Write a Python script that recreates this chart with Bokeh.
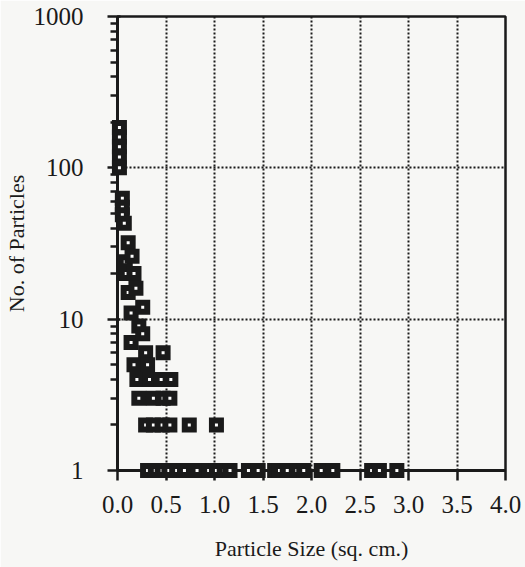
from bokeh.plotting import figure
from bokeh.models import FixedTicker, Range1d
from bokeh.embed import file_html
from bokeh.resources import INLINE

# Particle size (sq. cm.) and number of particles
sizes = [0.02, 0.02, 0.02, 0.02, 0.02,
         0.05, 0.05, 0.05,
         0.07, 0.11, 0.08, 0.15, 0.09, 0.17, 0.11, 0.19, 0.14, 0.26,
         0.22, 0.14, 0.26, 0.29, 0.47, 0.17, 0.31,
         0.20, 0.33, 0.45, 0.55,
         0.22, 0.37, 0.47, 0.54,
         0.29, 0.37, 0.46, 0.54, 0.74, 1.02,
         0.31, 0.39, 0.46, 0.53, 0.61, 0.69, 0.82, 0.94, 1.02, 1.10, 1.16,
         1.35, 1.45, 1.62, 1.67, 1.75, 1.85, 1.92, 2.10, 2.22, 2.62, 2.70, 2.88]
counts = [185, 160, 138, 118, 100,
          63, 55, 49,
          43, 32, 24, 26, 20, 20, 15, 16, 11, 12,
          9, 7, 8, 6, 6, 5, 5,
          4, 4, 4, 4,
          3, 3, 3, 3,
          2, 2, 2, 2, 2, 2,
          1, 1, 1, 1, 1, 1, 1, 1, 1, 1, 1,
          1, 1, 1, 1, 1, 1, 1, 1, 1, 1, 1, 1]

x_ticks = [0.0, 0.5, 1.0, 1.5, 2.0, 2.5, 3.0, 3.5, 4.0]
x_tick_labels = ["0.0", "0.5", "1.0", "1.5", "2.0", "2.5", "3.0", "3.5", "4.0"]
y_ticks = [1, 10, 100, 1000]
y_tick_labels = ["1", "10", "100", "1000"]
y_minor = [m * d for d in (1, 10, 100) for m in range(2, 10)]

FONT = "Liberation Serif"
INK = "#1a1a1a"
BG = "#f7f7f5"

p = figure(width=525, height=567, y_axis_type="log",
           x_range=Range1d(0, 4.0), y_range=Range1d(1, 1000),
           output_backend="svg", toolbar_location=None,
           min_border_left=106, min_border_right=20,
           min_border_top=16, min_border_bottom=97,
           background_fill_color=BG, border_fill_color=BG,
           outline_line_color=INK, outline_line_width=2.5)

p.xaxis.ticker = FixedTicker(ticks=x_ticks)
p.xaxis.major_label_overrides = dict(zip(x_ticks, x_tick_labels))
p.yaxis.ticker = FixedTicker(ticks=y_ticks, minor_ticks=y_minor)
p.yaxis.major_label_overrides = dict(zip(y_ticks, y_tick_labels))

p.xaxis.axis_label = "Particle Size (sq. cm.)"
p.yaxis.axis_label = "No. of Particles"

for ax in (p.xaxis[0], p.yaxis[0]):
    ax.axis_line_color = INK
    ax.axis_line_width = 3
    ax.major_tick_line_color = INK
    ax.major_tick_line_width = 2.5
    ax.minor_tick_line_color = INK
    ax.minor_tick_line_width = 2.5
    ax.major_label_text_font = FONT
    ax.major_label_text_font_size = "25px"
    ax.major_label_text_color = INK
    ax.axis_label_text_font = FONT
    ax.axis_label_text_font_size = "22px"
    ax.axis_label_text_font_style = "normal"
    ax.axis_label_text_color = INK

p.xaxis.major_tick_out = 10
p.xaxis.major_tick_in = 0
p.xaxis.minor_tick_out = 0
p.xaxis.minor_tick_in = 0
p.xaxis.major_label_standoff = 15
p.xaxis.axis_label_standoff = 20

p.yaxis.major_tick_out = 10
p.yaxis.major_tick_in = 3
p.yaxis.minor_tick_out = 7
p.yaxis.minor_tick_in = 0
p.yaxis.major_label_standoff = 24
p.yaxis.axis_label_standoff = 2

p.xgrid.ticker = FixedTicker(ticks=x_ticks[1:-1])
p.ygrid.ticker = FixedTicker(ticks=[10, 100])
for g in (p.xgrid[0], p.ygrid[0]):
    g.grid_line_color = INK
    g.grid_line_width = 2
    g.grid_line_dash = "2 2"

p.scatter(sizes, counts, marker="square", size=9,
          fill_color="white", line_color=INK, line_width=6,
          line_join="miter", level="overlay")

open("out.html", "w").write(file_html(p, INLINE))
